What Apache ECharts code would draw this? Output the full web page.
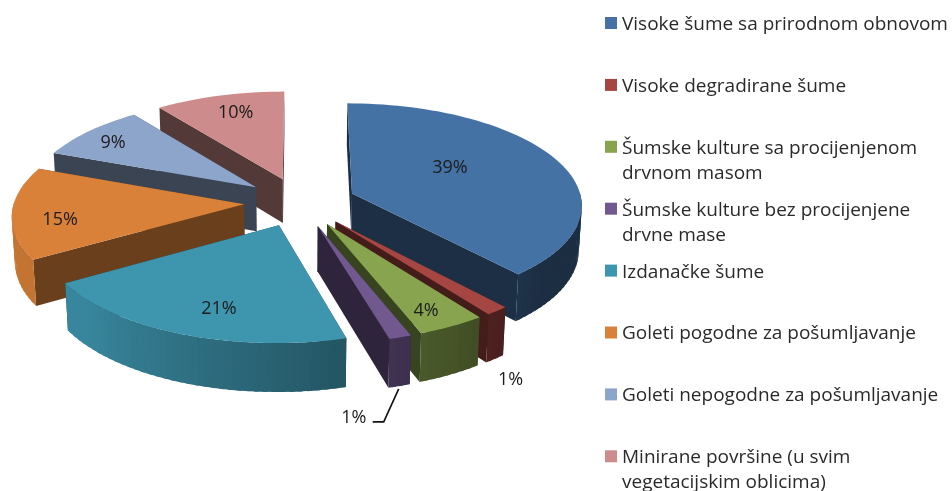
<!DOCTYPE html>
<html>
<head>
<meta charset="utf-8">
<title>Sume</title>
<script src="https://cdn.jsdelivr.net/npm/echarts@6/dist/echarts.min.js"></script>
<style>
  html, body { margin: 0; padding: 0; background: #fff; }
  #chart { width: 952px; height: 491px; }
</style>
</head>
<body>
<div id="chart"></div>
<script>
var names = [
  "Visoke šume sa prirodnom obnovom",
  "Visoke degradirane šume",
  "Šumske kulture sa procijenjenom\ndrvnom masom",
  "Šumske kulture bez procijenjene\ndrvne mase",
  "Izdanačke šume",
  "Goleti pogodne za pošumljavanje",
  "Goleti nepogodne za pošumljavanje",
  "Minirane površine (u svim\nvegetacijskim oblicima)"
];
// the labels round these
var values = [38.6, 1.45, 4.25, 1.4, 20.6, 14.6, 8.9, 10.2];
var colors = ["#4472a5", "#a64643", "#88a44e", "#71588f", "#3e95ae", "#d98139", "#8ea5cb", "#cd8c8b"];

// label offset from the tip of each slice, in px
var labelOffsets = [[98, -26], [175, 158], [99, 87], [36, 192], [-60, 84], [-184, 16], [-143, -44], [-47, -66]];

// fake 3D camera, echarts has no 3D pie without echarts-gl
var cx = 300, cy = 202, radius = 230, explode = 56, thickness = 50;
var tilt = 26 * Math.PI / 180, camDist = 2050;
var total = values.reduce(function (a, b) { return a + b; }, 0);

function project(x, y, h) {
  var s = camDist / (camDist + y * Math.cos(tilt) - h * Math.sin(tilt));
  return [cx + x * s, cy - (y * Math.sin(tilt) + h * Math.cos(tilt)) * s];
}

function shade(hex, f) {
  var n = parseInt(hex.slice(1), 16);
  return "rgb(" + Math.round((n >> 16) * f) + "," + Math.round(((n >> 8) & 255) * f) + "," + Math.round((n & 255) * f) + ")";
}

// angles are clockwise from 12 o'clock
var slices = [];
var acc = 0;
values.forEach(function (v, i) {
  var a0 = acc / total * 360;
  acc += v;
  var a1 = acc / total * 360;
  var mid = (a0 + a1) / 2 * Math.PI / 180;
  slices.push({ index: i, a0: a0, a1: a1, ox: Math.sin(mid) * explode, oy: Math.cos(mid) * explode });
});

// back slices first
var drawOrder = slices.slice().sort(function (a, b) { return b.oy - a.oy; });

function rim(sl, deg, h) {
  var r = deg * Math.PI / 180;
  return project(sl.ox + Math.sin(r) * radius, sl.oy + Math.cos(r) * radius, h);
}

function poly(points, fill) {
  return { type: "polygon", shape: { points: points }, style: { fill: fill } };
}

function outerShade(deg) {
  return 0.4 + 0.5 * Math.max(0, Math.min(1, (deg - 130) / 100));
}

function renderSlice(params) {
  var sl = drawOrder[params.dataIndex];
  var col = colors[sl.index];
  var tip = project(sl.ox, sl.oy, 0);
  var tipLow = project(sl.ox, sl.oy, -thickness);
  var dark = shade(col, sl.index === 5 ? 0.49 : 0.41);
  var kids = [];
  var top = [tip];
  var deg;
  var steps = Math.max(2, Math.ceil((sl.a1 - sl.a0) / 2));

  // flat cut walls
  kids.push(poly([tip, rim(sl, sl.a0, 0), rim(sl, sl.a0, -thickness), tipLow], dark));
  kids.push(poly([tip, rim(sl, sl.a1, 0), rim(sl, sl.a1, -thickness), tipLow], dark));

  // rounded wall as overlapping strips so the shade can change with the angle,
  // only the part that faces the camera
  var stepDeg = (sl.a1 - sl.a0) / steps;
  for (var k = 0; k < steps; k++) {
    var d0 = sl.a0 + stepDeg * k;
    var d1 = k === steps - 1 ? sl.a1 : d0 + stepDeg * 1.5;
    var facing = Math.cos((d0 + stepDeg / 2) * Math.PI / 180) < 0;
    if (facing) {
      kids.push(poly([rim(sl, d0, 0), rim(sl, d1, 0), rim(sl, d1, -thickness), rim(sl, d0, -thickness)],
        shade(col, outerShade(d0 + stepDeg / 2))));
    }
  }

  for (k = 0; k <= steps; k++) {
    deg = sl.a0 + stepDeg * k;
    top.push(rim(sl, deg, 0));
  }
  kids.push({ type: "polygon", shape: { points: top }, style: { fill: col } });

  var off = labelOffsets[sl.index];
  kids.push({
    type: "text",
    z2: 10,
    style: {
      x: tip[0] + off[0], y: tip[1] + off[1],
      text: Math.round(values[sl.index] / total * 100) + "%",
      font: "18px 'Open Sans'", fill: "#1c1c1c", align: "center", verticalAlign: "middle"
    }
  });

  // leader for the small purple slice
  if (sl.index === 3) {
    kids.push({
      type: "polyline",
      z2: 10,
      shape: { points: [[tip[0] + 81, tip[1] + 163], [tip[0] + 66, tip[1] + 196], [tip[0] + 55, tip[1] + 196]] },
      style: { stroke: "#111", lineWidth: 1.6, fill: null }
    });
  }
  return { type: "group", children: kids };
}

// legend rows keep a fixed pitch, two-line names hang below the first line
var legendItems = [];
names.forEach(function (name, i) {
  var rowY = 24 + i * 61.9;
  legendItems.push({ type: "rect", shape: { x: 605, y: rowY - 7, width: 12, height: 12 }, style: { fill: colors[i] } });
  legendItems.push({
    type: "text",
    style: {
      x: 622, y: rowY - 12, text: name, font: "19px 'Open Sans'", fill: "#2a2a2a",
      lineHeight: 25, verticalAlign: "top", align: "left"
    }
  });
});

var chart = echarts.init(document.getElementById("chart"));
chart.setOption({
  backgroundColor: "#fff",
  animation: false,
  graphic: legendItems,
  series: [
    {
      type: "custom",
      coordinateSystem: "none",
      renderItem: renderSlice,
      data: drawOrder.map(function (sl) {
        return { name: names[sl.index], value: values[sl.index] };
      })
    }
  ]
});
</script>
</body>
</html>
